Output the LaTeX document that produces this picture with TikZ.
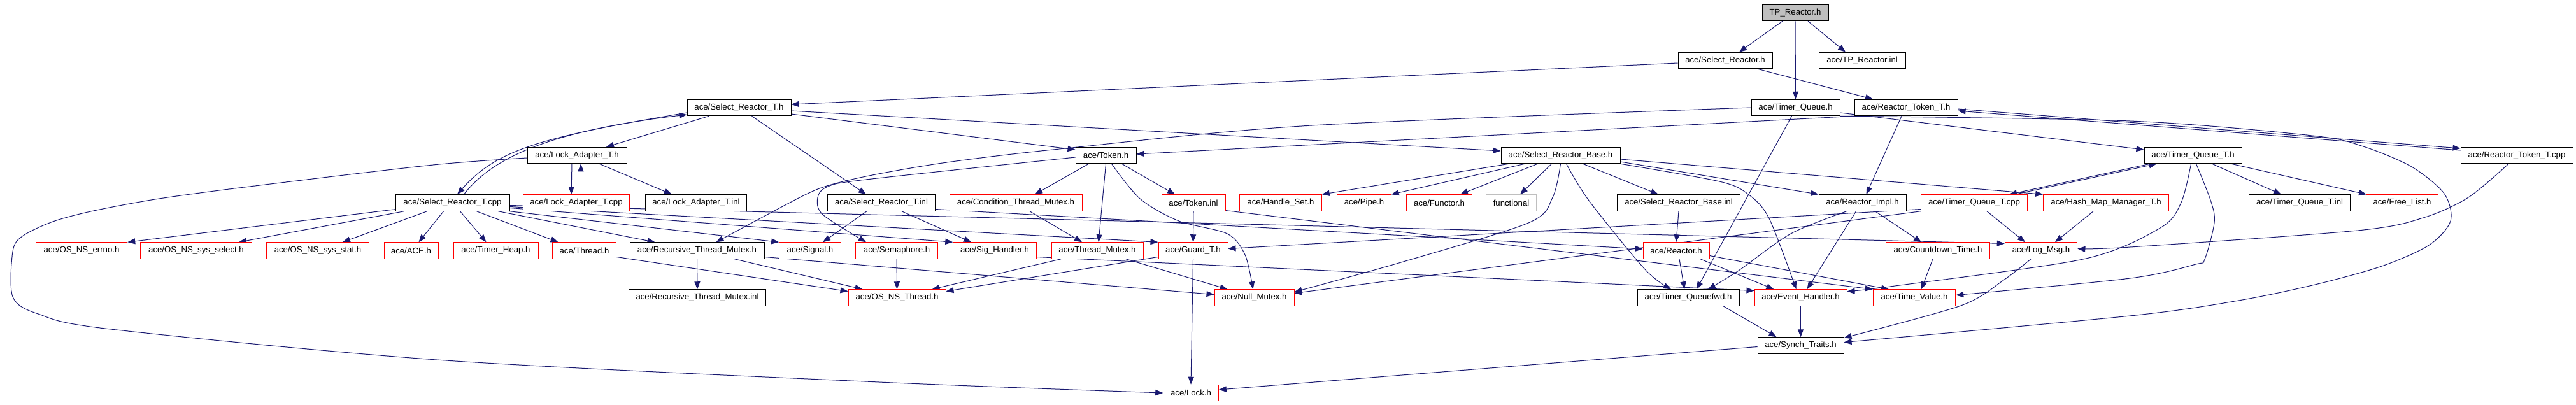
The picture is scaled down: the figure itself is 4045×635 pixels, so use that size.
\documentclass[tikz,border=0pt]{standalone}
\usepackage{fontspec}
\setmainfont{Liberation Sans}
\usetikzlibrary{arrows.meta}
\definecolor{edgec}{RGB}{25,25,112}
\definecolor{graybox}{RGB}{191,191,191}
\pgfdeclarelayer{bg}
\pgfsetlayers{bg,main}
\tikzset{
 box/.style={draw=black, line width=1pt, fill=white, rectangle, minimum height=25.5pt, inner sep=0pt, font=\fontsize{13.2}{15}\selectfont},
 rbox/.style={box, draw=red},
 gbox/.style={box, draw=graybox},
 topbox/.style={box, fill=graybox},
 dep/.style={draw=edgec, line width=1pt, -{Triangle[length=12pt,width=9pt]}},
}
\begin{document}
\begin{tikzpicture}[x=1pt,y=1pt]
\useasboundingbox (0,0) rectangle (4045,-635);
% row 0
\node[topbox, minimum width=104pt] (tp) at (2819,-20) {TP\_Reactor.h};
% row 1
\node[box, minimum width=148pt] (sr) at (2709,-95) {ace/Select\_Reactor.h};
\node[box, minimum width=136pt] (tpinl) at (2924,-95) {ace/TP\_Reactor.inl};
% row 2
\node[box, minimum width=163pt] (srth) at (1160.5,-169) {ace/Select\_Reactor\_T.h};
\node[box, minimum width=139pt] (tq) at (2819.5,-169) {ace/Timer\_Queue.h};
\node[box, minimum width=162pt] (rtth) at (2993,-169) {ace/Reactor\_Token\_T.h};
% row 3
\node[box, minimum width=156pt] (lath) at (906,-244) {ace/Lock\_Adapter\_T.h};
\node[box, minimum width=95pt] (tok) at (1736.5,-244) {ace/Token.h};
\node[box, minimum width=187pt] (srbh) at (2450.5,-244) {ace/Select\_Reactor\_Base.h};
\node[box, minimum width=153pt] (tqth) at (3443.5,-244) {ace/Timer\_Queue\_T.h};
\node[box, minimum width=176pt] (rttc) at (3952,-244) {ace/Reactor\_Token\_T.cpp};
% row 4
\node[box, minimum width=179pt] (srtc) at (710.5,-318.5) {ace/Select\_Reactor\_T.cpp};
\node[rbox, minimum width=167.5pt] (latc) at (905,-318.5) {ace/Lock\_Adapter\_T.cpp};
\node[box, minimum width=159.5pt] (lati) at (1093,-318.5) {ace/Lock\_Adapter\_T.inl};
\node[box, minimum width=168.5pt] (srti) at (1384,-318.5) {ace/Select\_Reactor\_T.inl};
\node[rbox, minimum width=208pt] (ctm) at (1595,-318.5) {ace/Condition\_Thread\_Mutex.h};
\node[rbox, minimum width=100pt] (toki) at (1874,-318.5) {ace/Token.inl};
\node[rbox, minimum width=128.5pt] (hs) at (2011,-318.5) {ace/Handle\_Set.h};
\node[rbox, minimum width=84.5pt] (pipe) at (2142,-318.5) {ace/Pipe.h};
\node[rbox, minimum width=102.5pt] (functor) at (2260,-318.5) {ace/Functor.h};
\node[gbox, minimum width=79.5pt] (functional) at (2373,-318.5) {functional};
\node[box, minimum width=193.6pt] (srbi) at (2636,-318.5) {ace/Select\_Reactor\_Base.inl};
\node[box, minimum width=137pt] (rimpl) at (2924.5,-318.5) {ace/Reactor\_Impl.h};
\node[rbox, minimum width=167.5pt] (tqtc) at (3100,-318.5) {ace/Timer\_Queue\_T.cpp};
\node[rbox, minimum width=196.5pt] (hmm) at (3307,-318.5) {ace/Hash\_Map\_Manager\_T.h};
\node[box, minimum width=159.4pt] (tqti) at (3611,-318.5) {ace/Timer\_Queue\_T.inl};
\node[rbox, minimum width=113pt] (fl) at (3772,-318.5) {ace/Free\_List.h};
% row 5
\node[rbox, minimum width=143.5pt] (errno) at (128,-393.5) {ace/OS\_NS\_errno.h};
\node[rbox, minimum width=174.5pt] (sel) at (308,-393.5) {ace/OS\_NS\_sys\_select.h};
\node[rbox, minimum width=160.5pt] (stat) at (499,-393.5) {ace/OS\_NS\_sys\_stat.h};
\node[rbox, minimum width=85pt] (ace) at (645.5,-393.5) {ace/ACE.h};
\node[rbox, minimum width=133pt] (theap) at (778.5,-393.5) {ace/Timer\_Heap.h};
\node[rbox, minimum width=100pt] (thread) at (917.5,-393.5) {ace/Thread.h};
\node[box, minimum width=211pt] (rtm) at (1094.5,-393.5) {ace/Recursive\_Thread\_Mutex.h};
\node[rbox, minimum width=96.6pt] (signal) at (1272,-393.5) {ace/Signal.h};
\node[rbox, minimum width=128.5pt] (sema) at (1408,-393.5) {ace/Semaphore.h};
\node[rbox, minimum width=130.4pt] (sigh) at (1562,-393.5) {ace/Sig\_Handler.h};
\node[rbox, minimum width=144pt] (tm) at (1723,-393.5) {ace/Thread\_Mutex.h};
\node[rbox, minimum width=109pt] (guard) at (1873.5,-393.5) {ace/Guard\_T.h};
\node[rbox, minimum width=104pt] (reactor) at (2632,-393.5) {ace/Reactor.h};
\node[rbox, minimum width=162.4pt] (cdt) at (3043,-393.5) {ace/Countdown\_Time.h};
\node[rbox, minimum width=113.6pt] (log) at (3205,-393.5) {ace/Log\_Msg.h};
% row 6
\node[box, minimum width=215.4pt] (rtmi) at (1095,-467.5) {ace/Recursive\_Thread\_Mutex.inl};
\node[rbox, minimum width=153pt] (osth) at (1408.5,-467.5) {ace/OS\_NS\_Thread.h};
\node[rbox, minimum width=125pt] (null) at (1969.5,-467.5) {ace/Null\_Mutex.h};
\node[box, minimum width=160pt] (tqfwd) at (2651,-467.5) {ace/Timer\_Queuefwd.h};
\node[rbox, minimum width=145pt] (eh) at (2827.5,-467.5) {ace/Event\_Handler.h};
\node[rbox, minimum width=129.5pt] (tv) at (3006,-467.5) {ace/Time\_Value.h};
% row 7, 8
\node[box, minimum width=135pt] (synch) at (2827.5,-542.5) {ace/Synch\_Traits.h};
\node[rbox, minimum width=86.5pt] (lock) at (1870,-617) {ace/Lock.h};

\begin{pgfonlayer}{bg}
\fill[white] (0,0) rectangle (4045,-635);
% top
\draw[dep] ([xshift=-20]tp.south) -- ([xshift=22]sr.north);
\draw[dep] (tp.south) -- (tq.north);
\draw[dep] ([xshift=20]tp.south) -- ([xshift=-26]tpinl.north);
\draw[dep] ([yshift=-4]sr.west) -- ([yshift=5]srth.east);
\draw[dep] ([xshift=51]sr.south) -- ([xshift=-52]rtth.north);
% srth
\draw[dep] ([xshift=-47]srth.south) -- ([xshift=46]lath.north);
\draw[dep] ([xshift=20]srth.south) -- ([xshift=-24]srti.north);
\draw[dep] ([yshift=-10]srth.east) -- ([yshift=9]tok.west);
\draw[dep] ([yshift=-5]srth.east) -- ([yshift=7]srbh.west);
\draw[dep] ([yshift=-8]srth.west) .. controls (850,-215) and (780,-235) .. ([xshift=7.5]srtc.north);
\draw[dep] ([xshift=18]srtc.north) .. controls (775,-245) and (870,-205) .. ([yshift=-11]srth.west);
% lath
\draw[dep] ([xshift=-8]lath.south) -- ([xshift=-8]latc.north);
\draw[dep] ([xshift=7]latc.north) -- ([xshift=6]lath.south);
\draw[dep] ([xshift=35]lath.south) -- ([xshift=-38]lati.north);
\draw[dep] plot[smooth, tension=0.5] coordinates {([yshift=-4]lath.west) (680,-259) (400,-292) (250,-312) (147,-331) (83,-348) (35,-371) (20,-395) (20,-466) (60,-493) (174,-517) (700,-566) (1380,-600) (lock.west)};
% tok
\draw[dep] ([xshift=-27]tok.south) -- ([xshift=30]ctm.north);
\draw[dep] (tok.south) -- ([xshift=2]tm.north);
\draw[dep] ([xshift=25]tok.south) -- ([xshift=-29]toki.north);
\draw[dep] plot[smooth] coordinates {([xshift=9]tok.south) (1790,-312) (1851,-347) (1927,-367) (1955,-400) ([xshift=-2]null.north)};
\draw[dep] plot[smooth] coordinates {([yshift=-3]tok.west) (1360,-282) (1300,-293) (1284,-310) (1292,-337) ([xshift=-48]sema.north)};
% rtth
\draw[dep] (rtth.south west) -- ([yshift=2]tok.east);
\draw[dep] ([xshift=-7]rtth.south) -- ([xshift=6]rimpl.north);
\draw[dep] ([yshift=-2]rtth.east) -- ([yshift=11]rttc.west);
\draw[dep] ([yshift=8]rttc.west) -- ([yshift=-5]rtth.east);
% tq
\draw[dep] ([yshift=-8]tq.east) -- ([yshift=9]tqth.west);
\draw[dep] ([xshift=-6]tq.south) -- ([xshift=13]tqfwd.north);
\draw[dep] plot[smooth] coordinates {(tq.west) (2060,-197) (1673,-233) (1494,-254) (1380,-273) (1305,-290) (1256,-310) ([xshift=30]rtm.north)};
\draw[dep] plot[smooth] coordinates {(tq.south east) (3345,-190) (3631,-213) (3711,-230) (3787,-262) (3838,-304) (3848,-347) (3814,-385) (3740,-418) (3635,-447) (3515,-472) (3345,-496) ([yshift=5]synch.east)};
% srbh
\draw[dep] ([xshift=-81]srbh.south) -- (hs.north east);
\draw[dep] ([xshift=-56]srbh.south) -- (pipe.north east);
\draw[dep] ([xshift=-36]srbh.south) -- ([xshift=33]functor.north);
\draw[dep] ([xshift=-14]srbh.south) -- ([xshift=14]functional.north);
\draw[dep] ([xshift=35]srbh.south) -- ([xshift=-32]srbi.north);
\draw[dep] ([yshift=-6]srbh.east) -- (hmm.north west);
\draw[dep] ([yshift=-10]srbh.east) -- (rimpl.north west);
\draw[dep] plot[smooth] coordinates {(srbh.south) (2438,-310) (2400,-350) (2200,-412) ([yshift=9]null.east)};
\draw[dep] plot[smooth] coordinates {([xshift=9]srbh.south) (2495,-315) (2583,-423) ([xshift=-27]tqfwd.north)};
\draw[dep] plot[smooth] coordinates {(srbh.south east) (2700,-285) (2745,-305) (2778,-343) ([xshift=-7]eh.north)};
% srtc
\draw[dep] ([yshift=3]srtc.south west) -- (errno.north east);
\draw[dep] ([xshift=-76]srtc.south) -- ([xshift=67]sel.north);
\draw[dep] ([xshift=-40]srtc.south) -- ([xshift=39]stat.north);
\draw[dep] ([xshift=-14]srtc.south) -- ([xshift=12]ace.north);
\draw[dep] ([xshift=12]srtc.south) -- ([xshift=-15]theap.north);
\draw[dep] ([xshift=38]srtc.south) -- ([xshift=-41]thread.north);
\draw[dep] ([xshift=72]srtc.south) -- ([xshift=-66]rtm.north);
\draw[dep] (srtc.south east) -- (signal.north west);
\draw[dep] ([yshift=-8]srtc.east) -- (sigh.north west);
\draw[dep] ([yshift=-6]srtc.east) -- (guard.north west);
\draw[dep] ([yshift=-4]srtc.east) -- ([yshift=11]log.west);
% srti, ctm, toki
\draw[dep] ([xshift=-23]srti.south) -- ([xshift=20]signal.north);
\draw[dep] ([xshift=32]srti.south) -- ([xshift=-37]sigh.north);
\draw[dep] ([yshift=-10]srti.east) -- ([yshift=2.5]reactor.west);
\draw[dep] ([xshift=22]ctm.south) -- ([xshift=-24]tm.north);
\draw[dep] (toki.south) -- (guard.north);
\draw[dep] ([yshift=-12]toki.east) -- (tv.north west);
% row 5
\draw[dep] (sema.south) -- (osth.north);
\draw[dep] ([xshift=-57]tm.south) -- ([xshift=55]osth.north);
\draw[dep] ([xshift=45]tm.south) -- ([xshift=-42]null.north);
\draw[dep] ([yshift=-10]guard.west) -- ([yshift=10]osth.east);
\draw[dep] (guard.south) -- (lock.north);
\draw[dep] ([yshift=-10]sigh.east) -- ([yshift=11]eh.west);
\draw[dep] (rtm.south) -- (rtmi.north);
\draw[dep] ([xshift=59]rtm.south) -- ([xshift=-54]osth.north);
\draw[dep] ([yshift=-10]rtm.east) -- ([yshift=5]null.west);
\draw[dep] ([yshift=-10]thread.east) -- ([yshift=10]osth.west);
\draw[dep] (srbi.south) -- (reactor.north);
\draw[dep] ([xshift=5]reactor.south) -- ([xshift=-6]tqfwd.north);
\draw[dep] ([xshift=38]reactor.south) -- ([xshift=-42]eh.north);
\draw[dep] ([yshift=-8]reactor.east) -- ([xshift=-40]tv.north);
\draw[dep] ([xshift=-10]rimpl.south) -- ([xshift=10]eh.north);
\draw[dep] ([xshift=20]rimpl.south) -- ([xshift=-26]cdt.north);
\draw[dep] plot[smooth] coordinates {([xshift=-25]rimpl.south) (2812,-367) (2730,-425) ([xshift=31]tqfwd.north)};
\draw[dep] ([xshift=-8]cdt.south) -- ([xshift=11]tv.north);
\draw[dep] (eh.south) -- (synch.north);
\draw[dep] ([xshift=55]tqfwd.south) -- ([xshift=-38]synch.north);
\draw[dep] plot[smooth] coordinates {([xshift=-16]log.south) (3146,-440) (3079,-480) ([yshift=12]synch.east)};
\draw[dep] ([xshift=20]tqtc.south) -- ([xshift=-25]log.north);
\draw[dep] ([xshift=-20]hmm.south) -- ([xshift=22]log.north);
\draw[dep] (tqtc.south west) -- ([yshift=7]null.east);
\draw[dep] ([yshift=-10]tqtc.west) -- ([yshift=3]guard.east);
% tqth
\draw[dep] ([xshift=-67]tqth.south) -- ([xshift=55]tqtc.north);
\draw[dep] ([xshift=64]tqtc.north) -- ([xshift=-57]tqth.south);
\draw[dep] ([xshift=30]tqth.south) -- ([xshift=-29]tqti.north);
\draw[dep] ([xshift=60]tqth.south) -- ([xshift=-56]fl.north);
\draw[dep] plot[smooth] coordinates {([xshift=-3]tqth.south) (3425,-318) (3392,-358) (3271,-407) (2968,-450) ([yshift=10]eh.east)};
\draw[dep] plot[smooth] coordinates {([xshift=5]tqth.south) (3472,-317) (3477,-350) (3462,-407) (3448,-415) (3345,-437) ([yshift=4]tv.east)};
\draw[dep] plot[smooth] coordinates {([xshift=-13]rttc.south) (3876,-310) (3805,-342) (3702,-362) (3345,-388) ([yshift=3]log.east)};
\draw[dep] ([yshift=-2]synch.west) -- ([yshift=5]lock.east);
\end{pgfonlayer}
\end{tikzpicture}
\end{document}
